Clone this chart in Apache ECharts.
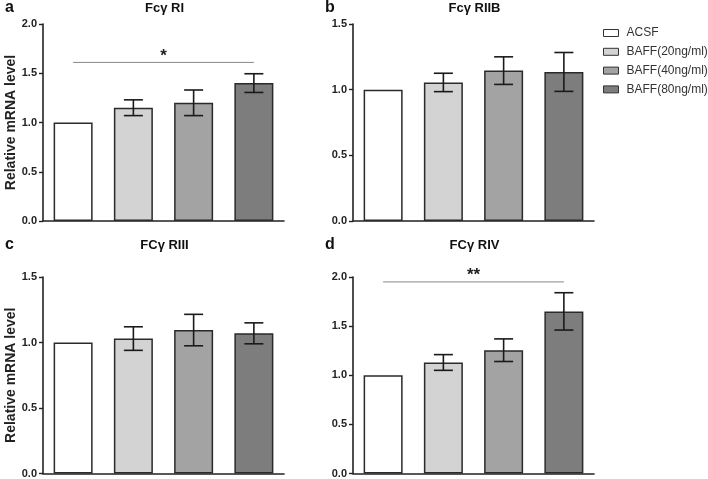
<!DOCTYPE html>
<html>
<head>
<meta charset="utf-8">
<script src="https://cdn.jsdelivr.net/npm/echarts@6/dist/echarts.min.js"></script>
<style>html,body{margin:0;padding:0;background:#fff}#main{width:708px;height:479px}</style>
</head>
<body>
<div id="main"></div>
<script>
// ---- data ----
var groups = ['ACSF', 'BAFF(20ng/ml)', 'BAFF(40ng/ml)', 'BAFF(80ng/ml)'];
var panelLetters = ['a', 'b', 'c', 'd'];
var panelTitles = ['Fc\u03b3 RI', 'Fc\u03b3 RIIB', 'FC\u03b3 RIII', 'FC\u03b3 RIV'];
var yMax = [2.0, 1.5, 1.5, 2.0];
var yInterval = 0.5;
var meanA = [1.0, 1.15, 1.20, 1.40];
var errA  = [0, 0.08, 0.13, 0.095];
var meanB = [1.0, 1.055, 1.145, 1.135];
var errB  = [0, 0.07, 0.105, 0.148];
var meanC = [1.0, 1.03, 1.095, 1.07];
var errC  = [0, 0.09, 0.12, 0.08];
var meanD = [1.0, 1.13, 1.255, 1.65];
var errD  = [0, 0.08, 0.115, 0.19];
var sigLevel = [1.61, null, null, 1.95];
var sigText  = ['*', '', '', '**'];
var sigFrom = 0, sigTo = 3;

var means = [meanA, meanB, meanC, meanD];
var errs = [errA, errB, errC, errD];
var colors = ['#ffffff', '#d3d3d3', '#a3a3a3', '#7d7d7d'];
var FONT = 'Liberation Sans, Arial, sans-serif';

var grids = [
  {left: 43, top: 24, width: 241, height: 197},
  {left: 353, top: 24, width: 241, height: 197},
  {left: 43, top: 277, width: 241, height: 196.5},
  {left: 353, top: 277, width: 241, height: 196.5}
];
var headY = [8, 8, 245, 245];
var letterX = [5, 325, 5, 325];

var xAxes = [], yAxes = [], series = [], graphics = [];
grids.forEach(function (g, p) {
  xAxes.push({
    type: 'category', gridIndex: p, data: groups,
    axisLine: {lineStyle: {color: '#222', width: 1.6}},
    axisTick: {show: false}, axisLabel: {show: false}
  });
  yAxes.push({
    type: 'value', gridIndex: p, min: 0, max: yMax[p], interval: yInterval,
    name: (p % 2 === 0) ? 'Relative mRNA level' : '',
    nameLocation: 'middle', nameGap: 25,
    nameTextStyle: {fontFamily: FONT, fontWeight: 'bold', fontSize: 14, color: '#222'},
    axisLine: {show: true, lineStyle: {color: '#222', width: 1.6}},
    axisTick: {show: true, length: 4, lineStyle: {color: '#222', width: 1.4}},
    axisLabel: {fontFamily: FONT, fontWeight: 'bold', fontSize: 11, color: '#222', margin: 6,
      formatter: function (v) { return v.toFixed(1); }},
    splitLine: {show: false}
  });
  groups.forEach(function (name, i) {
    var d = groups.map(function (_, j) { return j === i ? means[p][j] : '-'; });
    series.push({
      type: 'bar', name: name, xAxisIndex: p, yAxisIndex: p, stack: 'g' + p,
      barWidth: 39, data: d,
      itemStyle: {color: colors[i], borderColor: '#2a2a2a', borderWidth: 1.5}
    });
  });
  var eb = [];
  for (var i = 0; i < groups.length; i++) {
    if (errs[p][i] > 0) eb.push([i, means[p][i] - errs[p][i], means[p][i] + errs[p][i]]);
  }
  series.push({
    type: 'custom', xAxisIndex: p, yAxisIndex: p, z: 5, data: eb, silent: true,
    renderItem: function (params, api) {
      var lo = api.coord([api.value(0), api.value(1)]);
      var hi = api.coord([api.value(0), api.value(2)]);
      var hw = 9.5;
      var st = {stroke: '#1a1a1a', lineWidth: 1.6};
      return {type: 'group', children: [
        {type: 'line', shape: {x1: lo[0], y1: lo[1], x2: hi[0], y2: hi[1]}, style: st},
        {type: 'line', shape: {x1: lo[0] - hw, y1: lo[1], x2: lo[0] + hw, y2: lo[1]}, style: st},
        {type: 'line', shape: {x1: hi[0] - hw, y1: hi[1], x2: hi[0] + hw, y2: hi[1]}, style: st}
      ]};
    }
  });
  if (sigLevel[p] != null) {
    series.push({
      type: 'custom', xAxisIndex: p, yAxisIndex: p, z: 5, silent: true,
      data: [[sigFrom, sigTo, sigLevel[p], sigText[p]]],
      renderItem: function (params, api) {
        var a = api.coord([api.value(0), api.value(2)]);
        var b = api.coord([api.value(1), api.value(2)]);
        var txt = api.value(3);
        return {type: 'group', children: [
          {type: 'line', shape: {x1: a[0], y1: a[1], x2: b[0], y2: b[1]},
            style: {stroke: '#888', lineWidth: 1}},
          {type: 'text', x: (a[0] + b[0]) / 2, y: a[1] + 2,
            style: {text: txt, fill: '#222', fontFamily: FONT, fontWeight: 'bold', fontSize: 17,
              align: 'center', verticalAlign: 'bottom'}}
        ]};
      }
    });
  }
  graphics.push({type: 'text', x: letterX[p], y: headY[p],
    style: {text: panelLetters[p], fill: '#111', fontFamily: FONT, fontWeight: 'bold', fontSize: 16,
      align: 'left', verticalAlign: 'middle'}});
  graphics.push({type: 'text', x: g.left + g.width / 2 + 1, y: headY[p],
    style: {text: panelTitles[p], fill: '#111', fontFamily: FONT, fontWeight: 'bold', fontSize: 13,
      align: 'center', verticalAlign: 'middle'}});
});

var chart = echarts.init(document.getElementById('main'), null, {renderer: 'canvas'});
chart.setOption({
  animation: false,
  backgroundColor: '#fff',
  grid: grids,
  xAxis: xAxes,
  yAxis: yAxes,
  legend: {
    data: groups, orient: 'vertical', left: 603, top: 27, padding: 0,
    icon: 'rect', itemWidth: 15, itemHeight: 7, itemGap: 6.8,
    itemStyle: {borderColor: '#333', borderWidth: 1},
    textStyle: {fontFamily: FONT, fontSize: 12, color: '#333', padding: [0, 0, 0, 3]},
    selectedMode: false
  },
  graphic: graphics,
  series: series
});
</script>
</body>
</html>
